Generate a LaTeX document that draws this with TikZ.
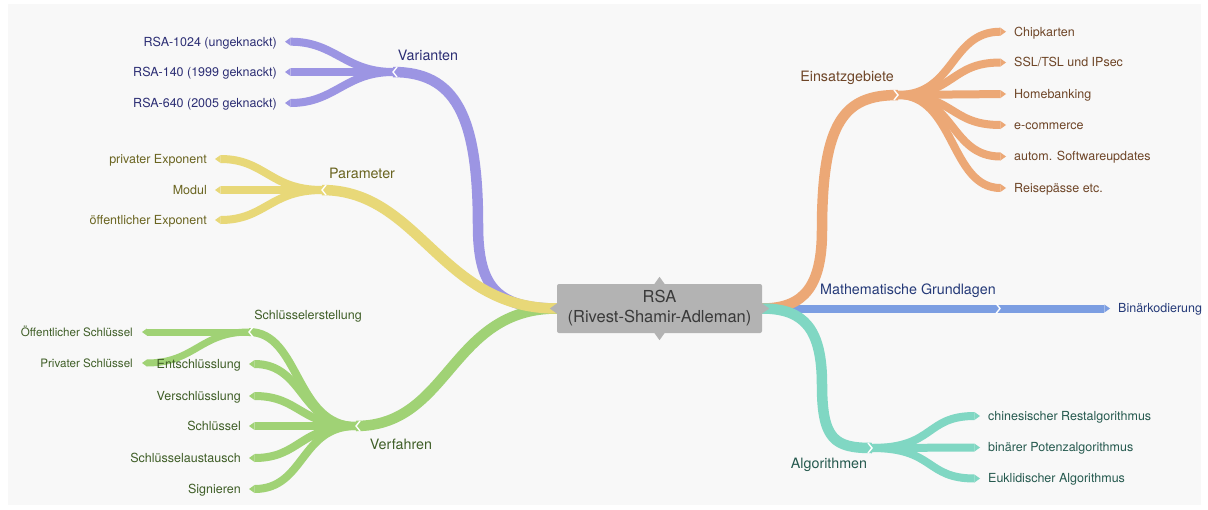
\documentclass[tikz,border=0pt]{standalone}
\usepackage{fontspec}
\setmainfont{TeX Gyre Heros}
\usetikzlibrary{arrows.meta,backgrounds}

\definecolor{hinter}{HTML}{F8F8F8}
\definecolor{mitte}{HTML}{B3B3B3}
\definecolor{mitteT}{HTML}{3A3A3A}
\definecolor{lila}{HTML}{9C95E3}
\definecolor{lilaT}{HTML}{2C2E74}
\definecolor{gelb}{HTML}{E8D878}
\definecolor{gelbT}{HTML}{6A6420}
\definecolor{gruen}{HTML}{A0D275}
\definecolor{gruenT}{HTML}{3F5E27}
\definecolor{orange}{HTML}{ECA876}
\definecolor{orangeT}{HTML}{6E4527}
\definecolor{blau}{HTML}{7C9EE2}
\definecolor{blauT}{HTML}{253A78}
\definecolor{tuerkis}{HTML}{80D7C3}
\definecolor{tuerkisT}{HTML}{25594E}

\begin{document}
\begin{tikzpicture}[x=1pt, y=-1pt,
    ast/.style={line width=10.5pt, line cap=butt},
    zweig/.style={line width=8pt, line cap=butt,
      -{Triangle[length=0pt 0.7, width=0pt 1, line width=0pt 0]}},
    blattL/.style={anchor=east, inner xsep=8pt, inner ysep=0pt,
      text height=8.8pt, text depth=0pt, font=\fontsize{12.5}{14}\selectfont},
    blattR/.style={blattL, anchor=west},
    blattK/.style={blattL, inner xsep=9pt, font=\fontsize{11.6}{13}\selectfont},
    titel/.style={inner sep=0pt, font=\fontsize{14.3}{16}\selectfont},
    kerbe/.pic={\draw[white, line width=1.4pt] (4,-5) -- (0,0) -- (4,5);}]
  \useasboundingbox (0,0) rectangle (1208,509);

  % Mitte
  \node[fill=mitte, rounded corners=2pt, minimum width=205pt, minimum height=49pt,
    align=center, text=mitteT, font=\fontsize{16.5}{20}\selectfont]
    (rsa) at (659.5,308.5) {RSA\\(Rivest-Shamir-Adleman)};
  \fill[mitte] ([xshift=-5pt]rsa.north) -- ([yshift=7pt]rsa.north) -- ([xshift=5pt]rsa.north) -- cycle;
  \fill[mitte] ([xshift=-5pt]rsa.south) -- ([yshift=-7pt]rsa.south) -- ([xshift=5pt]rsa.south) -- cycle;
  \fill[mitte] ([yshift=5pt]rsa.west) -- ([xshift=-7pt]rsa.west) -- ([yshift=-5pt]rsa.west) -- cycle;
  \fill[mitte] ([yshift=5pt]rsa.east) -- ([xshift=7pt]rsa.east) -- ([yshift=-5pt]rsa.east) -- cycle;

  % Knickpunkte
  \coordinate (vJ) at (393,72);
  \coordinate (pJ) at (322,190);
  \coordinate (fJ) at (356,426);
  \coordinate (sJ) at (249,332);
  \coordinate (eJ) at (898,95);
  \coordinate (mJ) at (1000,308.5);
  \coordinate (aJ) at (872,448);

  % Titel der Aeste
  \node[titel, text=lilaT] (var) at (428,55) {Varianten};
  \node[titel, text=gelbT] (par) at (362,173) {Parameter};
  \node[titel, text=gruenT] (verf) at (401,444) {Verfahren};
  \node[titel, text=gruenT, font=\fontsize{12.5}{14}\selectfont] (erst) at (308,316) {Schlüsselerstellung};
  \node[titel, text=orangeT] (einsatz) at (847,78) {Einsatzgebiete};
  \node[titel, text=blauT] (mathe) at (908,291) {Mathematische Grundlagen};
  \node[titel, text=tuerkisT] (algo) at (829,465) {Algorithmen};

  % Blaetter links
  \node[blattL, text=lilaT] (v1) at (285,41.7) {RSA-1024 (ungeknackt)};
  \node[blattL, text=lilaT] (v2) at (285,72) {RSA-140 (1999 geknackt)};
  \node[blattL, text=lilaT] (v3) at (285,103) {RSA-640 (2005 geknackt)};
  \node[blattL, text=gelbT] (p1) at (215,159) {privater Exponent};
  \node[blattL, text=gelbT] (p2) at (215,190) {Modul};
  \node[blattL, text=gelbT] (p3) at (215,220) {öffentlicher Exponent};
  \node[blattL, text=gruenT] (f1) at (249,364) {Entschlüsslung};
  \node[blattL, text=gruenT] (f2) at (249,396) {Verschlüsslung};
  \node[blattL, text=gruenT] (f3) at (249,426) {Schlüssel};
  \node[blattL, text=gruenT] (f4) at (249,458) {Schlüsselaustausch};
  \node[blattL, text=gruenT] (f5) at (249,489) {Signieren};
  \node[blattK, text=gruenT] (s1) at (142,332) {Öffentlicher Schlüssel};
  \node[blattK, text=gruenT] (s2) at (142,363) {Privater Schlüssel};

  % Blaetter rechts
  \node[blattR, text=orangeT] (e1) at (1006,31.7) {Chipkarten};
  \node[blattR, text=orangeT] (e2) at (1006,62.5) {SSL/TSL und IPsec};
  \node[blattR, text=orangeT] (e3) at (1006,94) {Homebanking};
  \node[blattR, text=orangeT] (e4) at (1006,125) {e-commerce};
  \node[blattR, text=orangeT] (e5) at (1006,156.5) {autom. Softwareupdates};
  \node[blattR, text=orangeT] (e6) at (1006,188) {Reisepässe etc.};
  \node[blattR, text=blauT] (bin) at (1110,308.5) {Binärkodierung};
  \node[blattR, text=tuerkisT] (a1) at (980,416) {chinesischer Restalgorithmus};
  \node[blattR, text=tuerkisT] (a2) at (980,447.5) {binärer Potenzalgorithmus};
  \node[blattR, text=tuerkisT] (a3) at (980,478.5) {Euklidischer Algorithmus};

  \begin{scope}[on background layer]
    \fill[white] (0,0) rectangle (1208,509);
    \fill[hinter] (8,4) rectangle (1201,505);

    % Varianten
    \draw[ast, lila] (rsa.west) .. controls (495,308.5) and (478,285) .. (478,225)
      .. controls (478,115) and (455,72) .. (vJ);
    \draw[zweig, lila] (vJ) .. controls (345,72) and (335,41.7) .. (v1.east);
    \draw[zweig, lila] (vJ) -- (v2.east);
    \draw[zweig, lila] (vJ) .. controls (345,72) and (335,103) .. (v3.east);

    % Verfahren
    \draw[ast, gruen] (rsa.west) .. controls (450,308.5) and (450,426) .. (fJ);
    \draw[line width=8pt, gruen] (fJ) .. controls (295,426) and (300,332) .. (sJ);
    \draw[zweig, gruen] (fJ) .. controls (300,426) and (305,364) .. (f1.east);
    \draw[zweig, gruen] (fJ) .. controls (300,426) and (300,396) .. (f2.east);
    \draw[zweig, gruen] (fJ) -- (f3.east);
    \draw[zweig, gruen] (fJ) .. controls (300,426) and (300,458) .. (f4.east);
    \draw[zweig, gruen] (fJ) .. controls (300,426) and (305,489) .. (f5.east);
    \draw[zweig, line width=7pt, gruen] (sJ) -- (s1.east);
    \draw[zweig, line width=7pt, gruen] (sJ) .. controls (200,332) and (195,363) .. (s2.east);

    % Parameter
    \draw[ast, gelb] (rsa.west) .. controls (440,308.5) and (420,190) .. (pJ);
    \draw[zweig, gelb] (pJ) .. controls (270,190) and (265,159) .. (p1.east);
    \draw[zweig, gelb] (pJ) -- (p2.east);
    \draw[zweig, gelb] (pJ) .. controls (270,190) and (265,220) .. (p3.east);

    % Mathematische Grundlagen
    \draw[line width=8pt, blau] (rsa.east) -- (mJ);
    \draw[zweig, blau] (mJ) -- (bin.west);

    % Einsatzgebiete
    \draw[ast, orange] (rsa.east) .. controls (805,308.5) and (822,285) .. (822,230)
      .. controls (822,120) and (845,95) .. (eJ);
    \draw[zweig, orange] (eJ) .. controls (955,95) and (950,31.7) .. (e1.west);
    \draw[zweig, orange] (eJ) .. controls (955,95) and (950,62.5) .. (e2.west);
    \draw[zweig, orange] (eJ) -- (e3.west);
    \draw[zweig, orange] (eJ) .. controls (955,95) and (950,125) .. (e4.west);
    \draw[zweig, orange] (eJ) .. controls (955,95) and (950,156.5) .. (e5.west);
    \draw[zweig, orange] (eJ) .. controls (955,95) and (950,188) .. (e6.west);

    % Algorithmen
    \draw[ast, tuerkis] (rsa.east) .. controls (805,308.5) and (822,330) .. (822,385)
      .. controls (822,440) and (835,448) .. (aJ);
    \draw[zweig, tuerkis] (aJ) .. controls (935,448) and (925,416) .. (a1.west);
    \draw[zweig, tuerkis] (aJ) -- (a2.west);
    \draw[zweig, tuerkis] (aJ) .. controls (935,448) and (925,478.5) .. (a3.west);

    % Kerben
    \pic at (vJ) {kerbe};
    \pic at (pJ) {kerbe};
    \pic at (fJ) {kerbe};
    \pic at (sJ) {kerbe};
    \pic[xscale=-1] at (eJ) {kerbe};
    \pic[xscale=-1] at (mJ) {kerbe};
    \pic[xscale=-1] at (aJ) {kerbe};
  \end{scope}
\end{tikzpicture}
\end{document}
